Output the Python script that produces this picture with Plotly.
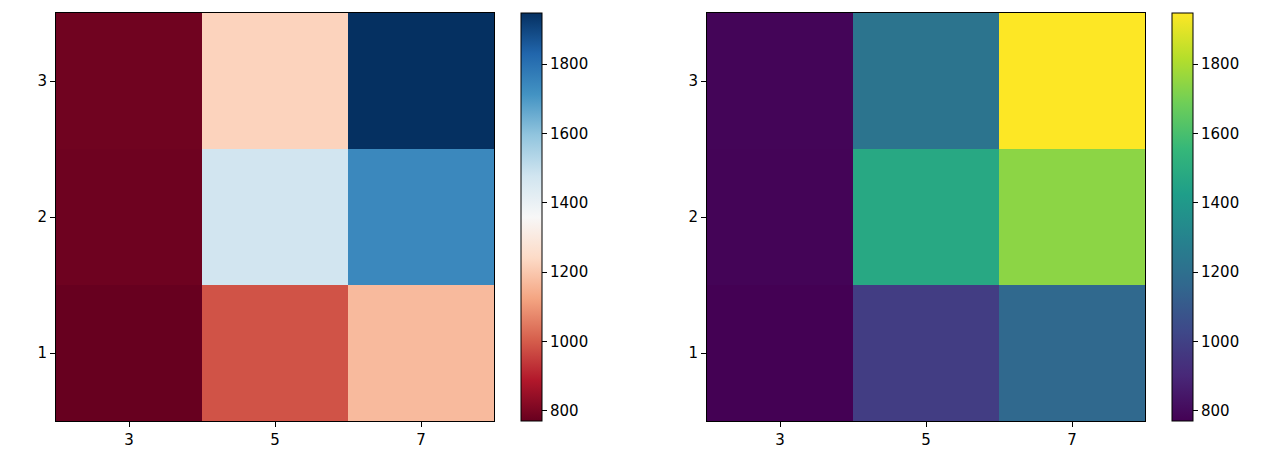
import plotly.graph_objects as go

# data (same values, two colormaps)
x_vals = [3, 5, 7]
y_vals = [1, 2, 3]
row_1 = [771, 985, 1170]
row_2 = [782, 1475, 1740]
row_3 = [785, 1225, 1947]
z_vals = [row_1, row_2, row_3]
cbar_ticks = [800, 1000, 1200, 1400, 1600, 1800]

# matplotlib RdBu (red at the low end)
rdbu_colors = ["#67001f", "#b2182b", "#d6604d", "#f4a582", "#fddbc7", "#f7f7f7",
               "#d1e5f0", "#92c5de", "#4393c3", "#2166ac", "#053061"]
rdbu = [[i / 10, c] for i, c in enumerate(rdbu_colors)]

W, H = 1277, 462
OFF = 8  # page body margin of the browser
font = dict(family="DejaVu Sans", size=15, color="black")


def px_x(p):
    return (p - OFF) / W


def px_y(p):
    return 1 - (p - OFF) / H


fig = go.Figure()

panels = [
    dict(cmap=rdbu, left=56, right=494, cb=521, xa="x", ya="y"),
    dict(cmap="Viridis", left=707, right=1145, cb=1172, xa="x2", ya="y2"),
]
top, bottom = 13, 421

for p in panels:
    fig.add_trace(go.Heatmap(
        x=x_vals, y=y_vals, z=z_vals,
        colorscale=p["cmap"],
        zmin=771, zmax=1947,
        xaxis=p["xa"], yaxis=p["ya"],
        colorbar=dict(
            x=px_x(p["cb"]), xanchor="left", xpad=0,
            y=px_y(bottom), yanchor="bottom", ypad=0,
            len=(bottom - top) / H, lenmode="fraction",
            thickness=21, thicknessmode="pixels",
            outlinewidth=1, outlinecolor="black",
            tickvals=cbar_ticks, ticks="outside", ticklen=5,
            tickcolor="black", tickfont=font,
        ),
    ))

axis_common = dict(
    showgrid=False, zeroline=False, showline=True, linecolor="black",
    linewidth=1, mirror=True, ticks="outside", ticklen=5, tickcolor="black",
    tickfont=font,
)

fig.update_layout(
    width=W, height=H,
    margin=dict(l=0, r=0, t=0, b=0),
    paper_bgcolor="white", plot_bgcolor="white",
    showlegend=False,
    xaxis=dict(domain=[px_x(56), px_x(494)], range=[2, 8], tickvals=x_vals,
               anchor="y", **axis_common),
    yaxis=dict(domain=[px_y(bottom), px_y(top)], range=[0.5, 3.5],
               tickvals=y_vals, anchor="x", **axis_common),
    xaxis2=dict(domain=[px_x(707), px_x(1145)], range=[2, 8], tickvals=x_vals,
                anchor="y2", **axis_common),
    yaxis2=dict(domain=[px_y(bottom), px_y(top)], range=[0.5, 3.5],
                tickvals=y_vals, anchor="x2", **axis_common),
)

fig.write_html("out.html")
